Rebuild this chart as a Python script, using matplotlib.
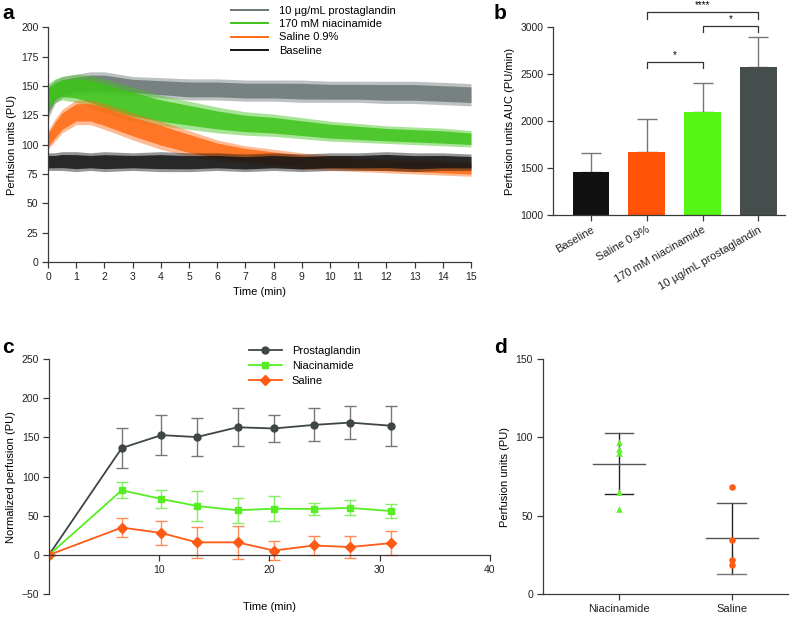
import numpy as np
import matplotlib
matplotlib.use("Agg")
import matplotlib.pyplot as plt
from matplotlib.lines import Line2D

plt.rcParams['font.family'] = ['Liberation Sans', 'DejaVu Sans']
plt.rcParams['font.size'] = 7.5
plt.rcParams['axes.edgecolor'] = '#3a3a3a'
plt.rcParams['axes.linewidth'] = 0.9
plt.rcParams['xtick.color'] = '#3a3a3a'
plt.rcParams['ytick.color'] = '#3a3a3a'
plt.rcParams['xtick.labelcolor'] = '#222222'
plt.rcParams['ytick.labelcolor'] = '#222222'

# ---- panel a: perfusion traces (envelope) ----
t = [0, 0.25, 0.5, 1, 1.5, 2, 3, 4, 5, 6, 7, 8, 9, 10, 11, 12, 13, 14, 15]
prost_lo = [122, 135, 140, 143, 143, 143, 142, 140, 138, 138, 137, 137, 136, 136, 136, 135, 135, 134, 133]
prost_hi = [150, 155, 158, 160, 162, 162, 158, 157, 156, 156, 155, 155, 155, 154, 154, 154, 154, 153, 152]
nia_lo = [128, 136, 138, 136, 132, 127, 120, 116, 113, 110, 108, 107, 105, 103, 102, 101, 100, 99, 98]
nia_hi = [152, 156, 158, 160, 159, 156, 149, 142, 137, 132, 128, 126, 123, 120, 118, 116, 115, 114, 112]
sal_lo = [96, 103, 110, 117, 117, 113, 104, 96, 90, 86, 84, 81, 79, 78, 77, 76, 75, 74, 73]
sal_hi = [112, 122, 130, 138, 138, 135, 127, 120, 112, 104, 99, 96, 93, 91, 89, 88, 88, 87, 86]
base_lo = [78, 78, 78, 77, 78, 77, 78, 77, 77, 78, 77, 78, 77, 78, 78, 78, 77, 78, 78]
base_hi = [93, 93, 94, 94, 93, 94, 93, 94, 93, 93, 92, 93, 92, 93, 93, 94, 93, 93, 92]

# ---- panel b: AUC bars ----
b_groups = ['Baseline', 'Saline 0.9%', '170 mM niacinamide', '10 µg/mL prostaglandin']
b_means = [1460, 1675, 2100, 2575]
b_err = [205, 345, 310, 320]

# ---- panel c: normalized perfusion over time ----
c_time = [0, 6.6, 10.2, 13.4, 17.1, 20.4, 24.0, 27.3, 31.0]
c_prost = [0, 136.5, 153, 150.5, 163, 161.5, 166, 169, 165]
c_prost_err = [0, 25, 26, 24.5, 24, 17, 21, 21.5, 25.5]
c_nia = [0, 82.5, 71.4, 62.5, 57, 59, 58.7, 60, 56]
c_nia_err = [0, 10, 12, 19, 16, 16, 7.5, 9.5, 9.5]
c_sal = [0, 34.9, 28, 16, 16, 5.5, 12, 10, 15]
c_sal_err = [0, 12, 15.5, 20, 21, 12.5, 12, 14, 15.5]

# ---- panel d: individual perfusion values ----
d_groups = ['Niacinamide', 'Saline']
d_nia = [96.8, 92.5, 90.0, 65.3, 54.2]
d_sal = [68.3, 34.5, 21.9, 18.5]
d_mean = [83.3, 35.5]
d_sd = [19.7, 22.7]

col_prost = '#6c7676'
col_nia = '#3fc41a'
col_sal = '#ff6a14'
col_base = '#151515'

fig = plt.figure(figsize=(7.98, 6.18), dpi=100)


def clean(ax):
    ax.spines['top'].set_visible(False)
    ax.spines['right'].set_visible(False)
    ax.tick_params(direction='out', length=4, width=0.9, pad=3)


# ================= a =================
ax = fig.add_axes([0.0602, 0.576, 0.530, 0.380])
clean(ax)
series = [(prost_lo, prost_hi, col_prost), (nia_lo, nia_hi, col_nia),
          (sal_lo, sal_hi, col_sal), (base_lo, base_hi, col_base)]
for lo, hi, c in series:
    lo = np.array(lo, float)
    hi = np.array(hi, float)
    mid = (lo + hi) / 2
    half = (hi - lo) / 2
    ax.fill_between(t, lo, hi, color=c, alpha=0.45, lw=0)
    ax.fill_between(t, mid - half * 0.7, mid + half * 0.7, color=c, alpha=0.85, lw=0)
ax.set_xlim(0, 15)
ax.set_ylim(0, 200)
ax.set_xticks(range(0, 16))
ax.set_yticks(range(0, 201, 25))
ax.set_xlabel('Time (min)', fontsize=8)
ax.set_ylabel('Perfusion units (PU)', fontsize=8, labelpad=3)
handles = [Line2D([], [], color=col_prost, lw=1.4),
           Line2D([], [], color=col_nia, lw=1.4),
           Line2D([], [], color=col_sal, lw=1.4),
           Line2D([], [], color=col_base, lw=1.4)]
ax.legend(handles, ['10 µg/mL prostaglandin', '170 mM niacinamide', 'Saline 0.9%', 'Baseline'],
          loc='upper left', bbox_to_anchor=(0.42, 1.115), frameon=False, fontsize=8,
          handlelength=3.3, handletextpad=1.0, labelspacing=0.3, borderpad=0)

# ================= b =================
ax = fig.add_axes([0.693, 0.652, 0.291, 0.304])
clean(ax)
xb = np.arange(len(b_groups))
bar_cols = ['#111111', '#ff5408', '#55f514', '#464d4d']
ax.bar(xb, b_means, width=0.66, color=bar_cols, zorder=2)
ax.errorbar(xb, b_means, yerr=[np.zeros(4), b_err], fmt='none', ecolor='#777777',
            elinewidth=1.0, capsize=7, capthick=1.0, zorder=1)
ax.set_xlim(-0.68, 3.48)
ax.set_ylim(1000, 3000)
ax.set_yticks(range(1000, 3001, 500))
ax.set_xticks(xb)
ax.set_xticklabels(b_groups, rotation=30, ha='right', rotation_mode='anchor', fontsize=8)
ax.set_ylabel('Perfusion units AUC (PU/min)', fontsize=8)


def bracket(ax, x1, x2, y, h, txt):
    ax.plot([x1, x1, x2, x2], [y - h, y, y, y - h], color='#333333', lw=0.9, clip_on=False)
    ax.text((x1 + x2) / 2, y + 20, txt, ha='center', va='bottom', fontsize=7)


bracket(ax, 1, 2, 2628, 65, '*')
bracket(ax, 2, 3, 3014, 67, '*')
bracket(ax, 1, 3, 3163, 78, '****')

# ================= c =================
ax = fig.add_axes([0.0614, 0.0388, 0.5526, 0.380])
clean(ax)
ax.spines['bottom'].set_position(('data', 0))
for y, e, c, m, ec in [(c_prost, c_prost_err, '#3f4646', 'o', '#777777'),
                       (c_nia, c_nia_err, '#55ee22', 's', '#88ee66'),
                       (c_sal, c_sal_err, '#ff5a14', 'D', '#ff8a55')]:
    ax.errorbar(c_time, y, yerr=e, fmt='none', ecolor=ec, elinewidth=1.0,
                capsize=4.5, capthick=1.0, zorder=1)
    ax.plot(c_time, y, color=c, marker=m, markersize=5 if m != 'D' else 4.6, lw=1.3, zorder=2)
ax.set_xlim(0, 40)
ax.set_ylim(-50, 250)
ax.set_xticks([10, 20, 30, 40])
ax.set_yticks(range(-50, 251, 50))
ax.set_xlabel('Time (min)', fontsize=8)
ax.xaxis.set_label_coords(0.5, -0.035)
ax.set_ylabel('Normalized perfusion (PU)', fontsize=8)
handles = [Line2D([], [], color='#3f4646', marker='o', markersize=5, lw=1.3),
           Line2D([], [], color='#55ee22', marker='s', markersize=5, lw=1.3),
           Line2D([], [], color='#ff5a14', marker='D', markersize=4.6, lw=1.3)]
ax.legend(handles, ['Prostaglandin', 'Niacinamide', 'Saline'], loc='upper left',
          bbox_to_anchor=(0.44, 1.08), frameon=False, fontsize=8, handlelength=3.0,
          handletextpad=0.9, labelspacing=0.45, borderpad=0)

# ================= d =================
ax = fig.add_axes([0.680, 0.0388, 0.307, 0.380])
clean(ax)
ax.scatter([0] * len(d_nia), d_nia, marker='^', s=22, color='#5ef02a', zorder=3, lw=0)
ax.scatter([1] * len(d_sal), d_sal, marker='o', s=22, color='#ff5a14', zorder=3, lw=0)
for i in range(2):
    ax.plot([i, i], [d_mean[i] - d_sd[i], d_mean[i] + d_sd[i]], color='#222222', lw=1.0, zorder=2)
    ax.plot([i - 0.125, i + 0.125], [d_mean[i] + d_sd[i]] * 2, color='#555555', lw=1.0, zorder=2)
    ax.plot([i - 0.125, i + 0.125], [d_mean[i] - d_sd[i]] * 2, color='#222222' if i == 0 else '#777777', lw=1.0, zorder=2)
    ax.plot([i - 0.23, i + 0.23], [d_mean[i]] * 2, color='#555555', lw=1.0, zorder=2)
ax.set_xlim(-0.673, 1.496)
ax.set_ylim(0, 150)
ax.set_xticks([0, 1])
ax.set_xticklabels(d_groups, fontsize=8)
ax.set_yticks(range(0, 151, 50))
ax.set_ylabel('Perfusion units (PU)', fontsize=8)

# panel letters
for x, y, s in [(0.003, 0.962, 'a'), (0.619, 0.962, 'b'), (0.003, 0.423, 'c'), (0.619, 0.423, 'd')]:
    fig.text(x, y, s, fontsize=15, fontweight='bold', va='bottom')

fig.savefig('out.png', dpi=100)
